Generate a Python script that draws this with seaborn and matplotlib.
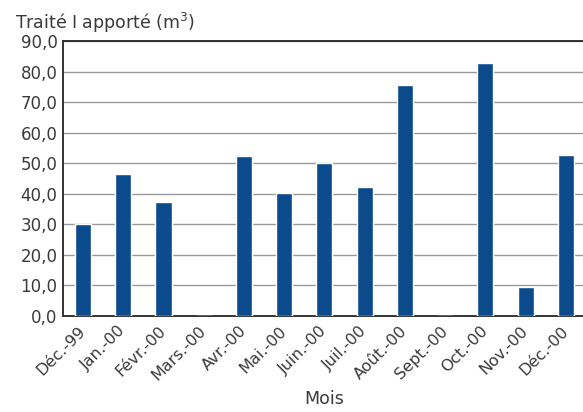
import matplotlib
matplotlib.use("Agg")
import matplotlib.pyplot as plt
import seaborn as sns
import pandas as pd
from matplotlib.ticker import FuncFormatter, FixedLocator

mois = ["Déc.-99", "Jan.-00", "Févr.-00", "Mars.-00", "Avr.-00", "Mai.-00",
        "Juin.-00", "Juil.-00", "Août.-00", "Sept.-00", "Oct.-00", "Nov.-00", "Déc.-00"]
volumes = [30.0, 46.4, 37.3, 0.0, 52.3, 40.2, 50.0, 42.2, 75.5, 0.0, 82.7, 9.5, 52.6]
y_ticks = [0, 10, 20, 30, 40, 50, 60, 70, 80, 90]

df = pd.DataFrame({"Mois": mois, "Volume": volumes})

sns.set_style("white")
plt.rcParams["font.family"] = ["DejaVu Sans"]

text_col = "#3a3a3a"

fig = plt.figure(figsize=(5.83, 4.12), dpi=100)
ax = fig.add_axes([0.108, 0.233, 0.897, 0.6675])

sns.barplot(data=df, x="Mois", y="Volume", color="#0b4a8b", width=0.4,
            saturation=1, ax=ax, zorder=3)

ax.set_ylim(0, 90)
ax.set_xlim(-0.5, len(mois) - 0.5)
ax.yaxis.set_major_locator(FixedLocator(y_ticks))
ax.yaxis.set_major_formatter(FuncFormatter(lambda v, p: f"{v:.1f}".replace(".", ",")))
ax.grid(axis="y", color="#9a9a9a", linewidth=1.0, zorder=0)
ax.set_axisbelow(True)

for s in ["left", "bottom", "top"]:
    ax.spines[s].set_visible(True)
    ax.spines[s].set_color("#333333")
    ax.spines[s].set_linewidth(1.4)
ax.spines["right"].set_visible(False)

# boundary ticks on the x axis, labels centred under each bar
ax.set_xticks(range(len(mois)))
ax.set_xticklabels(mois, rotation=45, ha="right", va="center",
                   rotation_mode="anchor", fontsize=11.5, color=text_col)
ax.tick_params(axis="x", length=0, pad=9)
ax.set_xticks([i + 0.5 for i in range(-1, len(mois))], minor=True)
ax.tick_params(axis="x", which="minor", length=4, width=1, color="#333333",
               direction="out")
ax.tick_params(axis="y", length=3, width=1, color="#333333", direction="out",
               labelsize=12, labelcolor=text_col, pad=1)

ax.set_xlabel("Mois", fontsize=12.5, color=text_col, labelpad=5)
ax.set_ylabel("")
fig.text(0.025, 0.93, "Traité I apporté (m$^3$)", fontsize=12.5,
         color=text_col, ha="left", va="baseline")

fig.savefig("out.png", dpi=100)
